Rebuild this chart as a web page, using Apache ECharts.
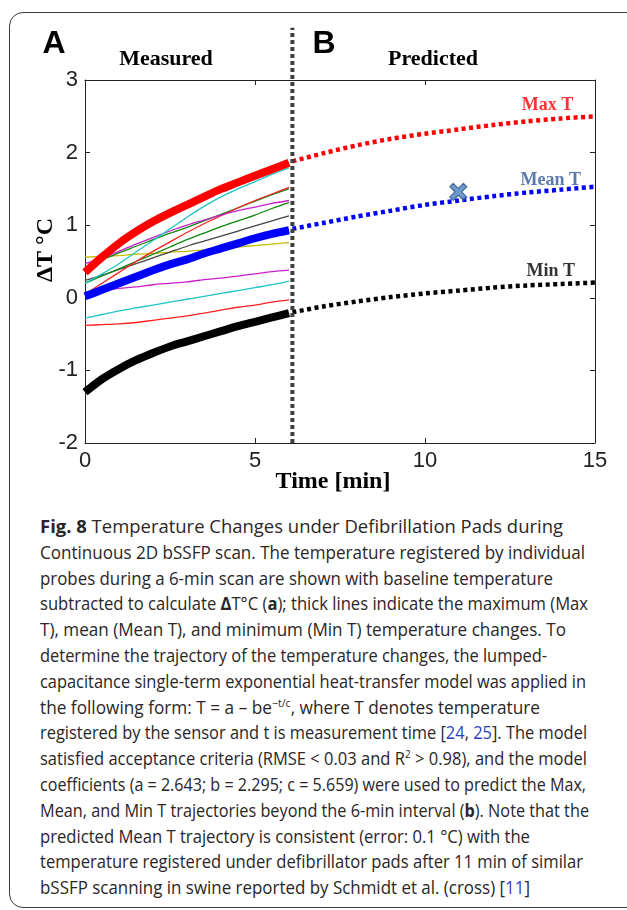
<!DOCTYPE html>
<html>
<head>
<meta charset="utf-8">
<script src="https://cdn.jsdelivr.net/npm/echarts@6/dist/echarts.min.js"></script>
<style>
  html, body { margin: 0; padding: 0; background: #fff; width: 627px; height: 910px; overflow: hidden; }
  #frame { position: absolute; left: 9px; top: 12px; width: 700px; height: 894px; border: 1.5px solid #3a3a3a; border-radius: 14px; pointer-events: none; }
  #chart { position: absolute; left: 0; top: 0; width: 627px; height: 500px; }
  #caption { position: absolute; left: 40px; top: 514px; font-family: "Open Sans"; font-size: 18px; line-height: 25.8px; color: #2a2627; }
  #caption div { white-space: nowrap; height: 25.8px; }
  #caption span.ln { display: inline-block; transform-origin: 0 50%; }
  #caption sup { font-size: 11px; line-height: 0; vertical-align: 7px; }
  #caption .ref { color: #2f3fbf; }
</style>
</head>
<body>
<div id="chart"></div>
<div id="caption">
  <div><span class="ln"><b>Fig. 8</b> Temperature Changes under Defibrillation Pads during</span></div>
  <div><span class="ln">Continuous 2D bSSFP scan. The temperature registered by individual</span></div>
  <div><span class="ln">probes during a 6-min scan are shown with baseline temperature</span></div>
  <div><span class="ln">subtracted to calculate <b>Δ</b>T°C (<b>a</b>); thick lines indicate the maximum (Max</span></div>
  <div><span class="ln">T), mean (Mean T), and minimum (Min T) temperature changes. To</span></div>
  <div><span class="ln">determine the trajectory of the temperature changes, the lumped-</span></div>
  <div><span class="ln">capacitance single-term exponential heat-transfer model was applied in</span></div>
  <div><span class="ln">the following form: T = a – be<sup>−t/c</sup>, where T denotes temperature</span></div>
  <div><span class="ln">registered by the sensor and t is measurement time [<span class="ref">24</span>, <span class="ref">25</span>]. The model</span></div>
  <div><span class="ln">satisfied acceptance criteria (RMSE &lt; 0.03 and R<sup>2</sup> &gt; 0.98), and the model</span></div>
  <div><span class="ln">coefficients (a = 2.643; b = 2.295; c = 5.659) were used to predict the Max,</span></div>
  <div><span class="ln">Mean, and Min T trajectories beyond the 6-min interval (<b>b</b>). Note that the</span></div>
  <div><span class="ln">predicted Mean T trajectory is consistent (error: 0.1 °C) with the</span></div>
  <div><span class="ln">temperature registered under defibrillator pads after 11 min of similar</span></div>
  <div><span class="ln">bSSFP scanning in swine reported by Schmidt et al. (cross) [<span class="ref">11</span>]</span></div>
</div>
<div id="frame"></div>
<script>
// time points (min)
var tMeas = [0, 0.5, 1, 1.5, 2, 2.5, 3, 3.5, 4, 4.5, 5, 5.5, 6];
var tPred = [6.1, 7, 8, 9, 10, 11, 12, 13, 14, 15];

// measured, thick lines
var maxMeas  = [0.35, 0.56, 0.75, 0.91, 1.05, 1.17, 1.28, 1.39, 1.50, 1.59, 1.68, 1.77, 1.86];
var meanMeas = [0.02, 0.11, 0.20, 0.29, 0.38, 0.46, 0.53, 0.61, 0.68, 0.75, 0.82, 0.88, 0.93];
var minMeas  = [-1.30, -1.12, -0.98, -0.86, -0.76, -0.67, -0.60, -0.53, -0.46, -0.39, -0.33, -0.27, -0.21];

// individual probes (thin lines)
var cyanHi    = [0.20, 0.33, 0.47, 0.63, 0.79, 0.95, 1.11, 1.26, 1.39, 1.50, 1.60, 1.70, 1.79];
var magentaHi = [0.47, 0.55, 0.64, 0.74, 0.83, 0.92, 1.00, 1.07, 1.14, 1.20, 1.25, 1.30, 1.34];
var redThin   = [0.05, 0.20, 0.35, 0.50, 0.64, 0.77, 0.90, 1.02, 1.13, 1.24, 1.34, 1.43, 1.52];
var greenHi   = [0.42, 0.52, 0.62, 0.71, 0.80, 0.89, 0.97, 1.06, 1.15, 1.24, 1.33, 1.42, 1.50];
var greenLo   = [0.20, 0.30, 0.40, 0.50, 0.60, 0.70, 0.80, 0.89, 0.98, 1.06, 1.14, 1.23, 1.31];
var grayThin  = [0.24, 0.31, 0.39, 0.47, 0.55, 0.63, 0.71, 0.78, 0.85, 0.92, 0.99, 1.06, 1.13];
var yellowThin = [0.56, 0.57, 0.58, 0.60, 0.61, 0.63, 0.64, 0.66, 0.68, 0.70, 0.72, 0.74, 0.76];
var magentaLo = [0.08, 0.10, 0.13, 0.15, 0.18, 0.20, 0.22, 0.25, 0.27, 0.30, 0.33, 0.36, 0.38];
var cyanLo    = [-0.28, -0.23, -0.18, -0.14, -0.10, -0.06, -0.02, 0.02, 0.06, 0.10, 0.14, 0.18, 0.23];
var redLo     = [-0.38, -0.37, -0.36, -0.34, -0.31, -0.28, -0.25, -0.21, -0.17, -0.13, -0.10, -0.06, -0.03];

// predicted trajectories
var maxPred  = [1.88, 1.99, 2.10, 2.19, 2.26, 2.32, 2.38, 2.43, 2.47, 2.50];
var meanPred = [0.95, 1.03, 1.12, 1.20, 1.28, 1.34, 1.40, 1.45, 1.49, 1.53];
var minPred  = [-0.20, -0.12, -0.05, 0.01, 0.06, 0.10, 0.14, 0.17, 0.19, 0.21];

// Schmidt et al. point (cross)
var crossPoint = [10.98, 1.46];
// end of measurement (dashed divider)
var splitT = 6.1;
var splitRange = [-2, 3.72];

var curveNames = ['Max T', 'Mean T', 'Min T'];
var curveLabelPos = [[13.6, 2.65], [13.7, 1.62], [13.7, 0.37]];
var curveLabelColors = ['#ff0000', '#31589a', '#000000'];

// right edge of each caption line (px)
var captionEnds = [563, 585, 553, 588, 566, 547, 586, 540, 587, 587, 586, 589, 530, 583, 530];

function pairs(ts, vs) {
  return ts.map(function (t, i) { return [t, vs[i]]; });
}

function thin(data, color) {
  return {
    type: 'line', data: pairs(tMeas, data), symbol: 'none', smooth: 0.3,
    lineStyle: {color: color, width: 1.3}, silent: true
  };
}

function thick(data, color) {
  return {
    type: 'line', data: pairs(tMeas, data), symbol: 'none', smooth: 0.3,
    lineStyle: {color: color, width: 8}, silent: true
  };
}

function dotted(data, color) {
  return {
    type: 'line', data: pairs(tPred, data), symbol: 'none', smooth: 0.3,
    lineStyle: {color: color, width: 4.5, type: [4, 3.5]}, silent: true
  };
}

var axisCol = '#222';
var tickFont = {fontFamily: 'Liberation Sans', fontSize: 22, color: '#222'};

var myChart = echarts.init(document.getElementById('chart'));
myChart.setOption({
  animation: false,
  grid: {left: 85, top: 80, width: 510, height: 363},
  xAxis: [
    {
      type: 'value', min: 0, max: 15, interval: 5, position: 'bottom',
      axisLine: {show: true, onZero: false, lineStyle: {color: axisCol, width: 1}},
      axisTick: {show: true, inside: true, length: 5, lineStyle: {color: axisCol}},
      axisLabel: Object.assign({margin: 7}, tickFont),
      splitLine: {show: false}
    },
    {
      type: 'value', min: 0, max: 15, interval: 5, position: 'top',
      axisLine: {show: true, onZero: false, lineStyle: {color: axisCol, width: 1}},
      axisTick: {show: true, inside: true, length: 5, lineStyle: {color: axisCol}},
      axisLabel: {show: false},
      splitLine: {show: false}
    }
  ],
  yAxis: [
    {
      type: 'value', min: -2, max: 3, interval: 1, position: 'left',
      axisLine: {show: true, onZero: false, lineStyle: {color: axisCol, width: 1}},
      axisTick: {show: true, inside: true, length: 5, lineStyle: {color: axisCol}},
      axisLabel: Object.assign({margin: 7}, tickFont),
      splitLine: {show: false}
    },
    {
      type: 'value', min: -2, max: 3, interval: 1, position: 'right',
      axisLine: {show: true, onZero: false, lineStyle: {color: axisCol, width: 1}},
      axisTick: {show: true, inside: true, length: 5, lineStyle: {color: axisCol}},
      axisLabel: {show: false},
      splitLine: {show: false}
    }
  ],
  series: [
    thin(yellowThin, '#c4bc00'),
    thin(grayThin, '#444444'),
    thin(greenLo, '#0f870f'),
    thin(greenHi, '#0f870f'),
    thin(redThin, '#ff2020'),
    thin(magentaHi, '#c91ec9'),
    thin(cyanHi, '#1fc4c4'),
    thin(magentaLo, '#c91ec9'),
    thin(cyanLo, '#1fc4c4'),
    thin(redLo, '#ff2020'),
    thick(maxMeas, '#ff0000'),
    thick(meanMeas, '#0000ff'),
    thick(minMeas, '#000000'),
    dotted(maxPred, '#ff0000'),
    dotted(meanPred, '#0000ff'),
    dotted(minPred, '#000000'),
    {
      type: 'line', clip: false, symbol: 'none', silent: true,
      data: [[splitT, splitRange[0]], [splitT, splitRange[1]]],
      lineStyle: {color: '#404040', width: 4, type: [4, 3]}
    },
    {
      type: 'scatter', silent: true, z: 5,
      data: [crossPoint],
      symbol: 'path://M4,0 L10,6 L16,0 L20,4 L14,10 L20,16 L16,20 L10,14 L4,20 L0,16 L6,10 L0,4 Z',
      symbolSize: 17,
      itemStyle: {color: '#4a7fc0', borderColor: '#2a5788', borderWidth: 1.2}
    },
    {
      type: 'scatter', silent: true, symbolSize: 1,
      itemStyle: {color: 'rgba(0,0,0,0)'},
      label: {
        show: true, position: 'inside', formatter: '{b}',
        fontFamily: 'Liberation Serif', fontWeight: 'bold', fontSize: 18
      },
      data: curveNames.map(function (n, i) {
        return {name: n, value: curveLabelPos[i], label: {color: curveLabelColors[i]}};
      })
    }
  ],
  graphic: [
    {type: 'text', x: 54, y: 44, style: {text: 'A', font: 'bold 32px "Liberation Sans"', fill: '#000', align: 'center', verticalAlign: 'middle'}},
    {type: 'text', x: 324, y: 44, style: {text: 'B', font: 'bold 32px "Liberation Sans"', fill: '#000', align: 'center', verticalAlign: 'middle'}},
    {type: 'text', x: 166, y: 59, style: {text: 'Measured', font: 'bold 22px "Liberation Serif"', fill: '#000', align: 'center', verticalAlign: 'middle'}},
    {type: 'text', x: 433, y: 59, style: {text: 'Predicted', font: 'bold 22px "Liberation Serif"', fill: '#000', align: 'center', verticalAlign: 'middle'}},
    {type: 'text', x: 333, y: 482, style: {text: 'Time [min]', font: 'bold 24px "Liberation Serif"', fill: '#000', align: 'center', verticalAlign: 'middle'}},
    {type: 'text', x: 46, y: 250, rotation: Math.PI / 2, style: {text: 'ΔT °C', font: 'bold 24px "Liberation Serif"', fill: '#000', align: 'center', verticalAlign: 'middle'}}
  ]
});

// squeeze caption lines to the reference widths (the original font is condensed)
function fitCaption() {
  var lines = document.querySelectorAll('#caption span.ln');
  for (var i = 0; i < lines.length; i++) {
    var w = lines[i].getBoundingClientRect().width;
    var target = captionEnds[i] - 40;
    lines[i].style.transform = 'scaleX(' + (target / w).toFixed(4) + ')';
  }
}
if (document.fonts && document.fonts.ready) {
  document.fonts.ready.then(fitCaption);
} else {
  fitCaption();
}
</script>
</body>
</html>
